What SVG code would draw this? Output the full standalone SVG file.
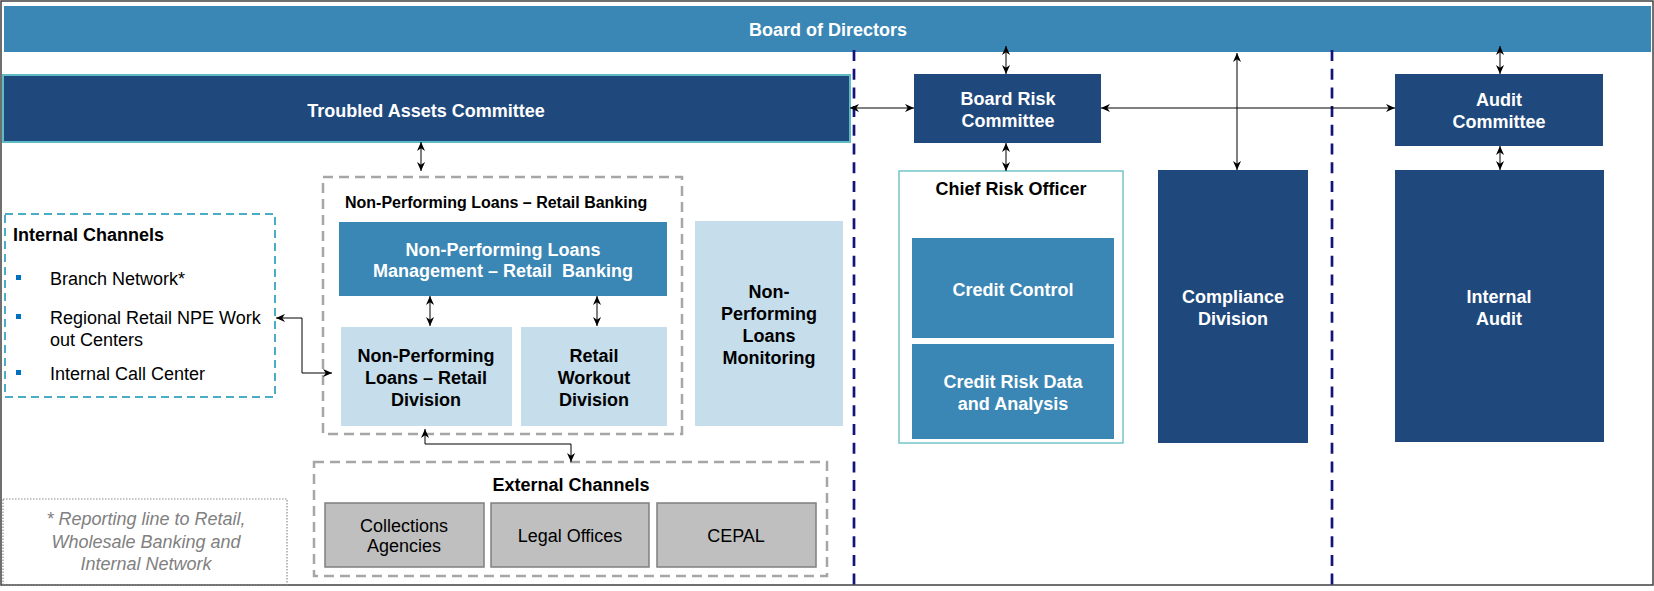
<svg xmlns="http://www.w3.org/2000/svg" width="1654" height="591" viewBox="0 0 1654 591">
<defs>
<marker id="ah" viewBox="0 0 10 10" refX="10" refY="5" markerWidth="9" markerHeight="9" markerUnits="userSpaceOnUse" orient="auto-start-reverse">
<path d="M0,0.5 L10,5 L0,9.5 L3,5 z" fill="#000"/>
</marker>
<style>
text{font-family:"Liberation Sans",Arial,sans-serif;font-size:18px}
.b{font-weight:bold}
.w{fill:#fff}
.k{fill:#000}
.c{text-anchor:middle}
.navy{fill:#1F497D}
.mid{fill:#3A87B5}
.light{fill:#C6DEEC}
.grey{fill:#BFBFBF;stroke:#7F7F7F;stroke-width:1.5}
.gdash{fill:none;stroke:#A6A6A6;stroke-width:2.5;stroke-dasharray:10 6}
.conn{fill:none;stroke:#000;stroke-width:1;marker-start:url(#ah);marker-end:url(#ah)}
.sep{stroke:#13137A;stroke-width:2.7;stroke-dasharray:11 7.7}
</style>
</defs>
<rect x="0" y="0" width="1654" height="591" fill="#fff"/>
<rect x="1" y="1" width="1652" height="584" fill="none" stroke="#404040" stroke-width="1.5"/>

<g id="board">
<rect x="4" y="6" width="1647" height="46" class="mid"/>
<text x="828" y="36" class="b w c">Board of Directors</text>
</g>

<line x1="854" y1="50" x2="854" y2="585" class="sep"/>
<line x1="1332" y1="50" x2="1332" y2="585" class="sep"/>

<g id="tac">
<rect x="3" y="75" width="847" height="67" class="navy" stroke="#5FBCC6" stroke-width="2"/>
<text x="426" y="116.5" class="b w c">Troubled Assets Committee</text>
</g>

<g id="brc">
<rect x="914" y="74" width="187" height="69" class="navy"/>
<text x="1008" y="105" class="b w c">Board Risk</text>
<text x="1008" y="127" class="b w c">Committee</text>
</g>

<g id="audit-committee">
<rect x="1395" y="74" width="208" height="72" class="navy"/>
<text x="1499" y="106" class="b w c">Audit</text>
<text x="1499" y="128" class="b w c">Committee</text>
</g>

<g id="cro">
<rect x="899" y="171" width="224" height="272" fill="#fff" stroke="#74C5CB" stroke-width="1.5"/>
<text x="1011" y="195" class="b k c">Chief Risk Officer</text>
</g>

<g id="credit-control">
<rect x="912" y="238" width="202" height="100" class="mid"/>
<text x="1013" y="296" class="b w c">Credit Control</text>
</g>

<g id="credit-risk-data">
<rect x="912" y="344" width="202" height="95" class="mid"/>
<text x="1013" y="388" class="b w c">Credit Risk Data</text>
<text x="1013" y="410" class="b w c">and Analysis</text>
</g>

<g id="compliance">
<rect x="1158" y="170" width="150" height="273" class="navy"/>
<text x="1233" y="303" class="b w c">Compliance</text>
<text x="1233" y="325" class="b w c">Division</text>
</g>

<g id="internal-audit">
<rect x="1395" y="170" width="209" height="272" class="navy"/>
<text x="1499" y="303" class="b w c">Internal</text>
<text x="1499" y="325" class="b w c">Audit</text>
</g>

<g id="npl-retail-banking">
<rect x="323" y="177" width="359" height="257" class="gdash"/>
<text x="345" y="208" class="b k" style="font-size:16px">Non-Performing Loans – Retail Banking</text>
</g>

<g id="npl-management">
<rect x="339" y="222" width="328" height="74" class="mid"/>
<text x="503" y="256" class="b w c">Non-Performing Loans</text>
<text x="503" y="277" class="b w c" xml:space="preserve">Management – Retail  Banking</text>
</g>

<g id="npl-retail-division">
<rect x="341" y="327" width="171" height="99" class="light"/>
<text x="426" y="362" class="b k c">Non-Performing</text>
<text x="426" y="384" class="b k c">Loans – Retail</text>
<text x="426" y="406" class="b k c">Division</text>
</g>

<g id="retail-workout">
<rect x="521" y="327" width="146" height="99" class="light"/>
<text x="594" y="362" class="b k c">Retail</text>
<text x="594" y="384" class="b k c">Workout</text>
<text x="594" y="406" class="b k c">Division</text>
</g>

<g id="npl-monitoring">
<rect x="695" y="221" width="148" height="205" class="light"/>
<text x="769" y="298" class="b k c">Non-</text>
<text x="769" y="320" class="b k c">Performing</text>
<text x="769" y="342" class="b k c">Loans</text>
<text x="769" y="364" class="b k c">Monitoring</text>
</g>

<g id="internal-channels">
<rect x="5" y="214" width="270" height="183" fill="none" stroke="#4BACC6" stroke-width="2" stroke-dasharray="8 5"/>
<text x="13" y="241" class="b k">Internal Channels</text>
<rect x="16" y="275" width="5" height="5" fill="#0070C0"/>
<text x="50" y="285" class="k">Branch Network*</text>
<rect x="16" y="314" width="5" height="5" fill="#0070C0"/>
<text x="50" y="324" class="k">Regional Retail NPE Work</text>
<text x="50" y="346" class="k">out Centers</text>
<rect x="16" y="370" width="5" height="5" fill="#0070C0"/>
<text x="50" y="380" class="k">Internal Call Center</text>
</g>

<g id="external-channels">
<rect x="314" y="462" width="513" height="114" class="gdash"/>
<text x="571" y="491" class="b k c">External Channels</text>
</g>

<g id="collections">
<rect x="325" y="503" width="159" height="64" class="grey"/>
<text x="404" y="532" class="k c">Collections</text>
<text x="404" y="552" class="k c">Agencies</text>
</g>

<g id="legal">
<rect x="491" y="503" width="158" height="64" class="grey"/>
<text x="570" y="542" class="k c">Legal Offices</text>
</g>

<g id="cepal">
<rect x="657" y="503" width="159" height="64" class="grey"/>
<text x="736" y="542" class="k c">CEPAL</text>
</g>

<g id="footnote">
<rect x="3" y="499" width="284" height="86" fill="none" stroke="#8C8C8C" stroke-width="1.2" stroke-dasharray="1.5 1.5"/>
<text x="146" y="525" class="c" fill="#808080" font-style="italic">* Reporting line to Retail,</text>
<text x="146" y="548" class="c" fill="#808080" font-style="italic">Wholesale Banking and</text>
<text x="146" y="570" class="c" fill="#808080" font-style="italic">Internal Network</text>
</g>

<g id="connectors">
<path d="M1006,46 V74" class="conn"/>
<path d="M1006,143 V171" class="conn"/>
<path d="M1237,53 V170" class="conn"/>
<path d="M1500,46 V74" class="conn"/>
<path d="M1500,146 V170" class="conn"/>
<path d="M850,108 H914" class="conn"/>
<path d="M1101,108 H1395" class="conn"/>
<path d="M421,142 V171" class="conn"/>
<path d="M430,296 V326" class="conn"/>
<path d="M597,296 V326" class="conn"/>
<path d="M276,318 H302 V373 H332" class="conn"/>
<path d="M425,429 V444 H571 V462" class="conn"/>
</g>
</svg>
